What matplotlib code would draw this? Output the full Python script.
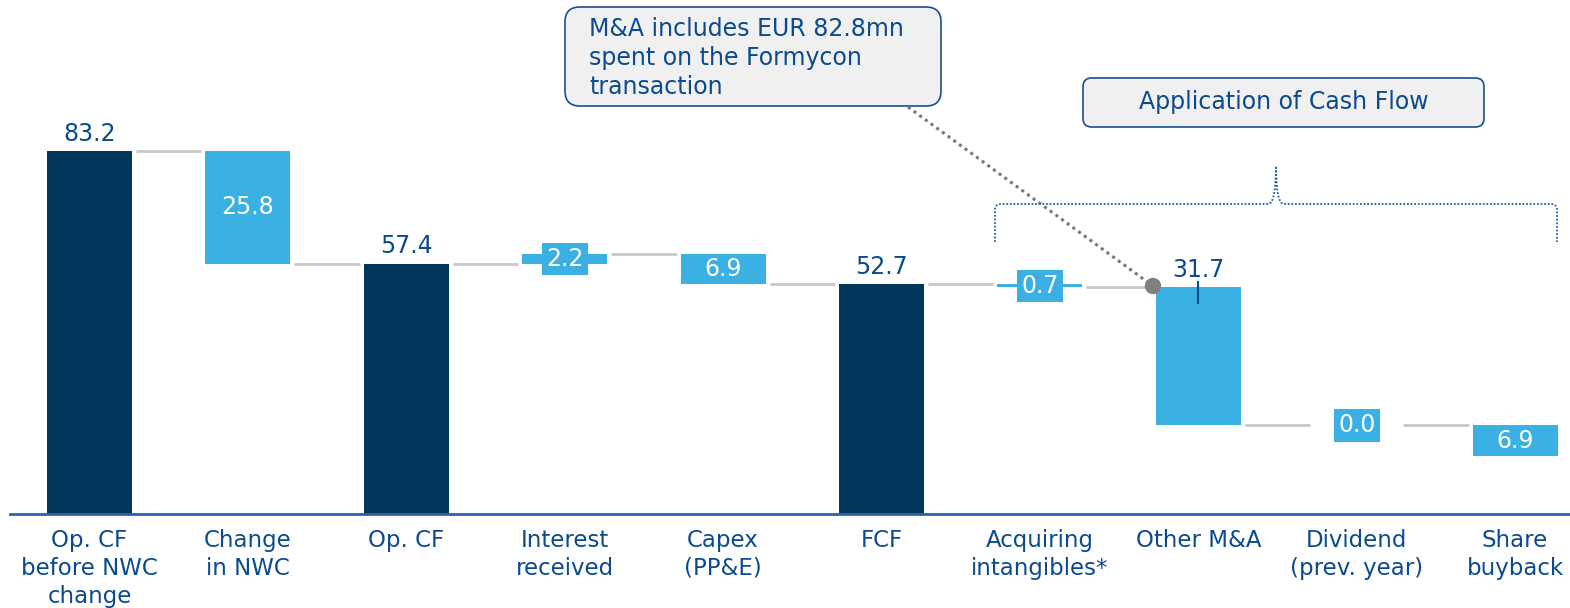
import matplotlib
matplotlib.use("Agg")
import matplotlib.pyplot as plt
from matplotlib.patches import FancyBboxPatch, PathPatch, Ellipse
from matplotlib.path import Path

# ---------------- data ----------------
categories = ["Op. CF\nbefore NWC\nchange", "Change\nin NWC", "Op. CF", "Interest\nreceived",
              "Capex\n(PP&E)", "FCF", "Acquiring\nintangibles*", "Other M&A",
              "Dividend\n(prev. year)", "Share\nbuyback"]
values = [83.2, -25.8, 57.4, 2.2, -6.9, 52.7, -0.7, -31.7, 0.0, -6.9]
is_total = [True, False, True, False, False, True, False, False, False, False]
value_labels = ["83.2", "25.8", "57.4", "2.2", "6.9", "52.7", "0.7", "31.7", "0.0", "6.9"]
note_text = "M&A includes EUR 82.8mn\nspent on the Formycon\ntransaction"
section_text = "Application of Cash Flow"

# ---------------- style ----------------
NAVY = "#02375A"
LIGHT = "#3BB1E3"
TXT = "#0B4A8F"
GREY = "#C8C8C8"
W, H = 1570, 608
fig = plt.figure(figsize=(W / 100, H / 100), dpi=100)
ax = fig.add_axes([0, 0, 1, 1])
ax.axis("off")

step = 158.4
x0 = 89.5
xmin = -x0 / step
xmax = xmin + W / step
yscale = 4.36
base_px = 514
ax.set_xlim(xmin, xmax)
ax.set_ylim(-(H - base_px) / yscale, base_px / yscale)

def px(x, y):
    return (x / W, 1 - y / H)

bw = 0.537
gap = 4 / step
FS = 17
CFS = 16.5

# compute bottoms/tops
bottoms, tops, ends = [], [], []
running = 0.0
for v, tot in zip(values, is_total):
    if tot:
        b, t = 0.0, v
        running = v
    else:
        new = running + v
        b, t = min(running, new), max(running, new)
        running = new
    bottoms.append(b)
    tops.append(t)
    ends.append(running)

for i, (b, t, tot) in enumerate(zip(bottoms, tops, is_total)):
    ax.bar(i, t - b, bottom=b, width=bw, color=NAVY if tot else LIGHT, zorder=3)

# connectors
for i in range(len(values) - 1):
    lvl = ends[i]
    ax.plot([i + bw / 2 + gap, i + 1 - bw / 2 - gap], [lvl, lvl], color=GREY, lw=2, zorder=2,
            solid_capstyle="butt")

# value labels
small_box = dict(boxstyle="square,pad=0.18", fc=LIGHT, ec="none")
for i, (b, t, tot, lab) in enumerate(zip(bottoms, tops, is_total, value_labels)):
    h = t - b
    if tot or i == 7:
        ax.annotate(lab, (i, t), xytext=(0, 4), textcoords="offset points", ha="center",
                    va="bottom", color=TXT, fontsize=FS, zorder=5)
    elif h * yscale >= 25:
        ax.text(i, (b + t) / 2, lab, ha="center", va="center", color="white", fontsize=FS, zorder=5)
    else:
        ax.text(i, (b + t) / 2, lab, ha="center", va="center", color="white", fontsize=FS,
                bbox=small_box, zorder=5)

# small tick on Other M&A
ax.plot([7, 7], [tops[7] + 1.2, tops[7] - 3.5], color=TXT, lw=1.5, zorder=6)

# x axis
ax.axhline(0, xmin=10 / W, xmax=1, color="#2E62A6", lw=2, zorder=4)

# category labels
for i, c in enumerate(categories):
    ax.text(i, -15 / yscale, c, ha="center", va="top", color=TXT, fontsize=CFS,
            linespacing=1.27)

# annotation box
bx0, by0, bx1, by1 = px(565, 106) + px(941, 7)
fig.patches.append(FancyBboxPatch((bx0, by0), bx1 - bx0, by1 - by0,
                                  boxstyle="round,pad=0,rounding_size=0.0095",
                                  transform=fig.transFigure, fc="#F0F0F0", ec="#1B4F8C", lw=1.2,
                                  mutation_aspect=W / H))
fig.text(*px(589, 58), note_text, ha="left", va="center", color=TXT, fontsize=FS,
         linespacing=1.26)

# section box
sx0, sy0, sx1, sy1 = px(1083, 127) + px(1484, 78)
fig.patches.append(FancyBboxPatch((sx0, sy0), sx1 - sx0, sy1 - sy0,
                                  boxstyle="round,pad=0,rounding_size=0.0055",
                                  transform=fig.transFigure, fc="#F0F0F0", ec="#1B4F8C", lw=1.2,
                                  mutation_aspect=W / H))
fig.text(*px(1283.5, 102), section_text, ha="center", va="center", color=TXT, fontsize=FS)

# dotted leader line + dot
lx0, ly0 = px(908, 107)
lx1, ly1 = px(1153, 286)
fig.add_artist(plt.Line2D([lx0, lx1], [ly0, ly1], transform=fig.transFigure, color="#777777",
                          lw=2.2, ls=(0, (1, 1.3))))
cx, cy = px(1153, 286)
fig.add_artist(Ellipse((cx, cy), 15 / W, 15 / H, transform=fig.transFigure,
                       color="#808080", zorder=10))

# brace
pts = [(995, 242), (995, 210), (995, 204), (1001, 204), (1268, 204), (1276, 204), (1276, 166),
       (1276, 204), (1284, 204), (1551, 204), (1557, 204), (1557, 210), (1557, 242)]
codes = [Path.MOVETO, Path.LINETO, Path.CURVE3, Path.CURVE3, Path.LINETO, Path.CURVE3, Path.CURVE3,
         Path.CURVE3, Path.CURVE3, Path.LINETO, Path.CURVE3, Path.CURVE3, Path.LINETO]
verts = [px(x, y) for x, y in pts]
fig.patches.append(PathPatch(Path(verts, codes), transform=fig.transFigure, fc="none",
                             ec="#1F5FA8", lw=1.3, ls=(0, (1, 1))))

fig.savefig("out.png", dpi=100)
